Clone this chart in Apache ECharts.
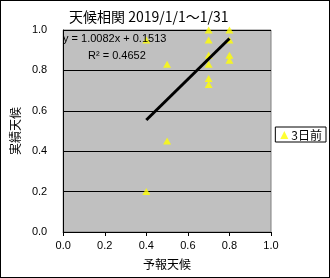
<!DOCTYPE html>
<html><head><meta charset="utf-8">
<script src="https://cdn.jsdelivr.net/npm/echarts@6/dist/echarts.min.js"></script>
<style>html,body{margin:0;padding:0;background:#fff}#c{width:330px;height:278px;box-sizing:border-box;border:1px solid #000}</style>
</head><body><div id="c"></div>
<script>
const titleText = '天候相関 2019/1/1～1/31';
const seriesName = '3日前';
const xName = '予報天候';
const yName = '実績天候';
const forecast = [0.4, 0.4, 0.5, 0.5, 0.7, 0.7, 0.7, 0.7, 0.7, 0.7, 0.8, 0.8, 0.8, 0.8];
const actual   = [0.95, 0.2, 0.83, 0.45, 1.0, 0.95, 0.875, 0.83, 0.76, 0.73, 1.0, 0.95, 0.875, 0.85];
const trendX = [0.4, 0.8];
const trendY = [0.5546, 0.9579];
const eqText = 'y = 1.0082x + 0.1513';
const r2Text = 'R² = 0.4652';

const chart = echarts.init(document.getElementById('c'), null, {renderer:'canvas'});
const fnt = '"Liberation Sans", Arial, sans-serif';
const cjk = '"Noto Sans CJK JP", sans-serif';
chart.setOption({
  animation: false,
  backgroundColor: '#fff',
  title: {text: titleText, left: 63, top: 4, textStyle: {fontFamily: cjk, fontSize: 14, fontWeight: 'normal', color: '#000'}},
  legend: {
    right: 3, top: 126, orient: 'vertical', borderColor: '#000', borderWidth: 1, padding: [2, 4, 1, 5],
    itemWidth: 8, itemHeight: 8, itemGap: 2,
    textStyle: {fontFamily: cjk, fontSize: 12, color: '#000', padding: [0,0,0,-2]},
    data: [{name: seriesName, icon: 'triangle'}]
  },
  grid: {left: 57, right: 58, top: 29, bottom: 45, show: true, backgroundColor: '#c0c0c0', borderColor: '#808080', borderWidth: 1},
  xAxis: {
    type: 'value', min: 0, max: 1, interval: 0.2,
    name: xName, nameLocation: 'middle', nameGap: 26,
    nameTextStyle: {fontFamily: cjk, fontSize: 12, color: '#000'},
    axisLine: {show: true, lineStyle: {color: '#000', width: 1}},
    axisTick: {show: true, length: 4, lineStyle: {color: '#000'}},
    axisLabel: {fontFamily: fnt, fontSize: 11, color: '#000', margin: 8, formatter: v => v.toFixed(1)},
    splitLine: {show: false}
  },
  yAxis: {
    type: 'value', min: 0, max: 1, interval: 0.2,
    name: yName, nameLocation: 'middle', nameGap: 22, nameRotate: 90,
    nameTextStyle: {fontFamily: cjk, fontSize: 12, color: '#000'},
    axisLine: {show: true, lineStyle: {color: '#000', width: 1}},
    axisTick: {show: false},
    axisLabel: {fontFamily: fnt, fontSize: 11, color: '#000', margin: 16, formatter: v => v.toFixed(1)},
    splitLine: {show: true, lineStyle: {color: '#000', width: 1}}
  },
  series: [
    {
      name: seriesName, type: 'scatter', symbol: 'triangle', symbolSize: [8, 7],
      itemStyle: {color: '#ffff00'},
      data: forecast.map((x, i) => [x, actual[i]]),
      z: 3
    },
    {
      name: 'trend', type: 'line', symbol: 'none', silent: true,
      lineStyle: {color: '#000', width: 3},
      data: trendX.map((x, i) => [x, trendY[i]]),
      z: 4
    }
  ],
  graphic: [
    {type: 'text', left: 62, top: 32, z: 10, style: {text: eqText, font: '11px ' + fnt, fill: '#000'}},
    {type: 'text', left: 87, top: 49, z: 10, style: {text: r2Text, font: '11px ' + fnt, fill: '#000'}}
  ]
});
</script></body></html>
